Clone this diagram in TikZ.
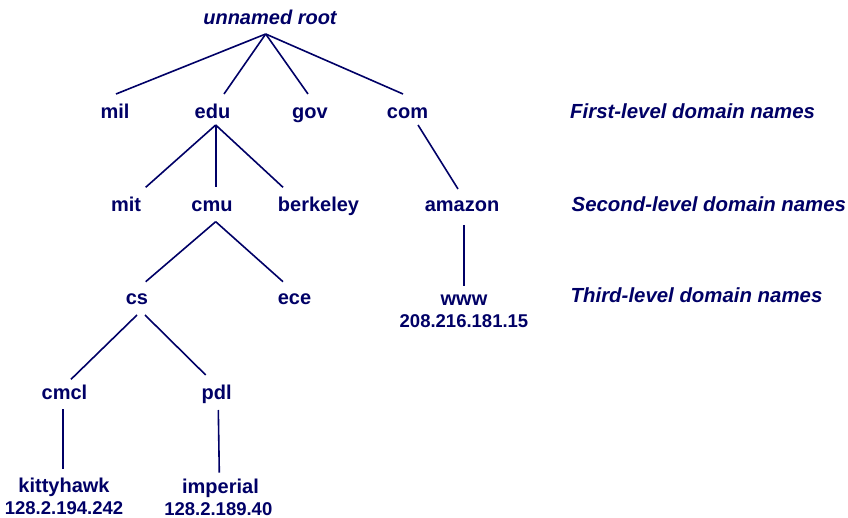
\documentclass[tikz,border=0pt]{standalone}
\usepackage{fontspec}
\setmainfont{Liberation Sans}
\definecolor{navy}{RGB}{0,0,102}
\begin{document}
\begin{tikzpicture}[x=1pt,y=-1pt,
  lbl/.style={font=\fontsize{20}{24}\selectfont\bfseries, text=navy, anchor=base, inner sep=0pt},
  ipaddr/.style={font=\fontsize{18.5}{22}\selectfont\bfseries, text=navy, anchor=base, inner sep=0pt},
  lvl/.style={font=\fontsize{20.4}{24}\selectfont\bfseries\itshape, text=navy, anchor=base west, inner sep=0pt},
  edge/.style={draw=navy, line width=1.6pt}]
\useasboundingbox (0,0) rectangle (848,518);

% nodes
\node[lbl,font=\fontsize{20}{24}\selectfont\bfseries\itshape] (root) at (270,24.3) {unnamed root};
\node[lbl] (mil) at (115,118.3) {mil};
\node[lbl] (edu) at (212.5,118.3) {edu};
\node[lbl] (gov) at (310,118.3) {gov};
\node[lbl] (com) at (407.5,118.3) {com};
\node[lbl] (mit) at (126,212) {mit};
\node[lbl] (cmu) at (212,212) {cmu};
\node[lbl] (berkeley) at (318.5,212) {berkeley};
\node[lbl] (amazon) at (462,212) {amazon};
\node[lbl] (cs) at (137,305) {cs};
\node[lbl] (ece) at (294.5,305) {ece};
\node[lbl] (www) at (464,306) {www};
\node[ipaddr] (wwwip) at (464,327.3) {208.216.181.15};
\node[lbl] (cmcl) at (64.5,399) {cmcl};
\node[lbl] (pdl) at (216.7,399) {pdl};
\node[lbl] (kittyhawk) at (64,492.7) {kittyhawk};
\node[ipaddr] (kittyip) at (64,514) {128.2.194.242};
\node[lbl] (imperial) at (220.5,493) {imperial};
\node[ipaddr] (imperialip) at (218.3,515) {128.2.189.40};

\node[lvl] (first) at (570,118.3) {First-level domain names};
\node[lvl] (second) at (571.5,211.7) {Second-level domain names};
\node[lvl] (third) at (570.5,302.7) {Third-level domain names};

% connector end points
\coordinate (rootA) at (265.7,34);
\coordinate (milT) at (116,94);
\coordinate (eduT) at (224,94);
\coordinate (govT) at (308,94);
\coordinate (comT) at (403,94);
\coordinate (eduB) at (215.7,125);
\coordinate (comB) at (418,125);
\coordinate (mitT) at (145.7,187.3);
\coordinate (cmuT) at (215.7,187.3);
\coordinate (berkeleyT) at (283,187.3);
\coordinate (amazonT) at (458,189);
\coordinate (cmuB) at (215.7,221.7);
\coordinate (csT) at (145.7,281.7);
\coordinate (eceT) at (283,281.7);
\coordinate (amazonB) at (464,225);
\coordinate (wwwT) at (464,285.7);
\coordinate (csBL) at (137,315);
\coordinate (csBR) at (145,315);
\coordinate (cmclT) at (71,379.3);
\coordinate (pdlT) at (205.7,375);
\coordinate (cmclB) at (62.7,409.3);
\coordinate (kittyT) at (62.7,469.3);
\coordinate (pdlB) at (218.3,410);
\coordinate (imperialT) at (219.3,472.7);

% connectors
\draw[edge] (rootA) -- (milT);
\draw[edge] (rootA) -- (eduT);
\draw[edge] (rootA) -- (govT);
\draw[edge] (rootA) -- (comT);
\draw[edge] (eduB) -- (mitT);
\draw[edge] (eduB) -- (cmuT);
\draw[edge] (eduB) -- (berkeleyT);
\draw[edge] (comB) -- (amazonT);
\draw[edge] (cmuB) -- (csT);
\draw[edge] (cmuB) -- (eceT);
\draw[edge] (amazonB) -- (wwwT);
\draw[edge] (csBL) -- (cmclT);
\draw[edge] (csBR) -- (pdlT);
\draw[edge] (cmclB) -- (kittyT);
\draw[edge] (pdlB) -- (imperialT);
\end{tikzpicture}
\end{document}
